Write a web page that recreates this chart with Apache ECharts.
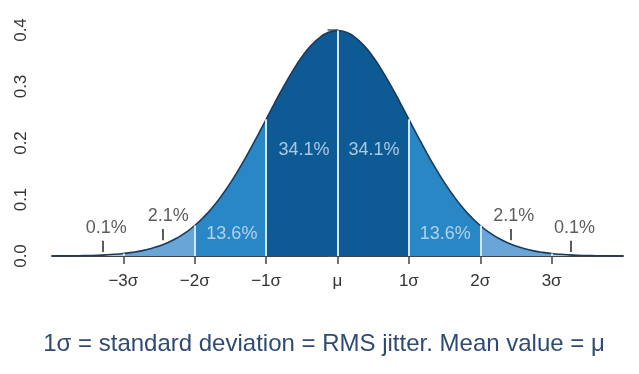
<!DOCTYPE html>
<html>
<head>
<meta charset="utf-8">
<script src="https://cdn.jsdelivr.net/npm/echarts@6/dist/echarts.min.js"></script>
<style>html,body{margin:0;padding:0;background:#fff}#c{width:639px;height:374px}</style>
</head>
<body>
<div id="c"></div>
<script>
// x in units of sigma, y = probability density
const xs = [-4,-3.875,-3.75,-3.625,-3.5,-3.375,-3.25,-3.125,-3,-2.875,-2.75,-2.625,-2.5,-2.375,-2.25,-2.125,-2,-1.875,-1.75,-1.625,-1.5,-1.375,-1.25,-1.125,-1,-0.875,-0.75,-0.625,-0.5,-0.375,-0.25,-0.125,0,0.125,0.25,0.375,0.5,0.625,0.75,0.875,1,1.125,1.25,1.375,1.5,1.625,1.75,1.875,2,2.125,2.25,2.375,2.5,2.625,2.75,2.875,3,3.125,3.25,3.375,3.5,3.625,3.75,3.875,4];
const density = [0.00013,0.00022,0.00035,0.00056,0.00087,0.00134,0.00203,0.00302,0.00443,0.0064,0.00909,0.01272,0.01753,0.02377,0.03174,0.04172,0.05399,0.06879,0.08628,0.10654,0.12952,0.15501,0.18265,0.21187,0.24197,0.27206,0.30114,0.32816,0.35207,0.37185,0.38667,0.39584,0.39894,0.39584,0.38667,0.37185,0.35207,0.32816,0.30114,0.27206,0.24197,0.21187,0.18265,0.15501,0.12952,0.10654,0.08628,0.06879,0.05399,0.04172,0.03174,0.02377,0.01753,0.01272,0.00909,0.0064,0.00443,0.00302,0.00203,0.00134,0.00087,0.00056,0.00035,0.00022,0.00013];
const bands = [-4,-3,-2,-1,0,1,2,3,4];
const tickValues = [-3,-2,-1,0,1,2,3];
const tickLabels = ['\u22123\u03c3','\u22122\u03c3','\u22121\u03c3','\u03bc','1\u03c3','2\u03c3','3\u03c3'];
const shareLabels = ['0.1%','2.1%','13.6%','34.1%','34.1%','13.6%','2.1%','0.1%'];
const shareX = [-3.24,-2.37,-1.48,-0.47,0.51,1.51,2.47,3.32];
const shareY = [0.0496,0.0708,0.039,0.1876,0.1876,0.039,0.0708,0.0496];
const pointerX = [-3.29,-2.45,2.43,3.27];
const pointerTop = [0.027,0.048,0.048,0.027];
const pointerBottom = [0.007,0.028,0.028,0.007];
const yTicks = ['0.0','0.1','0.2','0.3','0.4'];

const bandColors = ['#aac9e7','#6aa5d8','#2a87c6','#0d5a94','#0d5a94','#2a87c6','#6aa5d8','#aac9e7'];
const pts = xs.map((x,i)=>[x,density[i]]);
const font = "'Liberation Sans', Arial, sans-serif";

const series = [];
for (let b=0;b<bands.length-1;b++){
  const a=bands[b], c=bands[b+1];
  series.push({
    type:'line', data: pts.filter(p=>p[0]>=a-1e-9 && p[0]<=c+1e-9),
    smooth:true, showSymbol:false, silent:true,
    lineStyle:{width:0, opacity:0},
    areaStyle:{color:bandColors[b], opacity:1}
  });
}
// boundaries
const boundaryLines = bands.slice(1,-1).map(x=>{
  const i = xs.indexOf(x);
  return [{coord:[x,0]},{coord:[x,density[i]]}];
});
series.push({
  type:'line', data:[], silent:true,
  markLine:{symbol:'none', silent:true, label:{show:false},
    lineStyle:{color:'#cfe7f8', width:2, type:'solid'}, data:boundaryLines}
});
// outline
series.push({
  type:'line', data:pts, smooth:true, showSymbol:false, silent:true,
  lineStyle:{color:'#1b3a5c', width:1.6}, z:3
});
// pointer ticks
series.push({
  type:'line', data:[], silent:true,
  markLine:{symbol:'none', silent:true, label:{show:false},
    lineStyle:{color:'#333', width:1.6, type:'solid'},
    data: pointerX.map((x,i)=>[{coord:[x,pointerBottom[i]]},{coord:[x,pointerTop[i]]}])}
});
// percentage labels
series.push({
  type:'scatter', symbolSize:0, silent:true, z:5,
  data: shareLabels.map((t,i)=>{
    const inside = i>=2 && i<=5;
    return {name:t, value:[shareX[i],shareY[i]],
      label:{show:true, position:'inside', formatter:t, fontSize:18, fontFamily:font,
        color: inside ? '#cfe3f3' : '#333333'}};
  })
});

const chart = echarts.init(document.getElementById('c'), null, {renderer:'canvas'});
chart.setOption({
  animation:false,
  backgroundColor:'#ffffff',
  grid:{left:52, right:16, top:30, bottom:118},
  xAxis:{
    type:'value', min:-4, max:4, interval:1,
    axisLine:{show:true, onZero:false, lineStyle:{color:'#444', width:2}},
    axisTick:{show:true, length:8, customValues:tickValues, lineStyle:{color:'#444', width:1.5}},
    axisLabel:{customValues:tickValues, margin:17, fontSize:17, fontFamily:font, color:'#333',
      formatter:v=>{const i=tickValues.indexOf(Math.round(v)); return i>=0?tickLabels[i]:'';}},
    splitLine:{show:false}
  },
  yAxis:{
    type:'value', min:0, max:0.4, interval:0.1,
    axisLine:{show:true, lineStyle:{color:'#555', width:1.5}},
    axisTick:{show:true, length:10, lineStyle:{color:'#555', width:1.5}},
    axisLabel:{rotate:90, margin:22, fontSize:17, fontFamily:font, color:'#333',
      formatter:v=>yTicks[Math.round(v*10)]},
    splitLine:{show:false}
  },
  graphic:[{
    type:'text', x:324, y:344,
    style:{text:'1\u03c3 = standard deviation = RMS jitter. Mean value = \u03bc',
      fontSize:24, fontFamily:font, fill:'#2f4b73', align:'center', verticalAlign:'middle'}
  }],
  series:series
});
</script>
</body>
</html>
